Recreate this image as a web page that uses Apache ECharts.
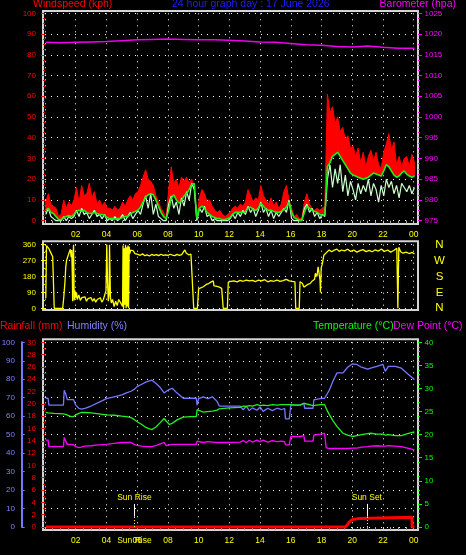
<!DOCTYPE html>
<html>
<head>
<meta charset="utf-8">
<script src="https://cdn.jsdelivr.net/npm/echarts@6/dist/echarts.min.js"></script>
<style>html,body{margin:0;padding:0;background:#000;}#c{width:466px;height:555px;}</style>
</head>
<body>
<div id="c"></div>
<script>
// ---------- DATA ----------
// wind samples every 10 minutes from 00:03
const windTimes = Array.from({length:145}, (_, i) => 0.05 + i / 6);
const windGust = [9,13,8,7,6,2,3,10,6,9, 7,10,16,9,17,12,13,18,11,14, 8,10,7,9,6,6,5,7,5,6,
  9,7,10,12,10,13,14,17,21,24.5, 20,19,17,12,9,6,4,1,15,26, 18,20,16,21,19,21,18,20,16,2,
  11,15,13,9,10,7,5,4,5,3, 2,3,4,6,7,6,8,7,9,15, 12,9,11,10,17,12,10,8,11,7,
  9,6,8,14,17,10,6,2,3,1, 1,9,13,8,6,5,6,5,6,7, 61,52,55,47,50,43,45,39,41,35,
  36,31,35,28,33,26,31,34,29,33, 27,25,33,37,42,34,38,27,31,26, 30,31,26,32,28];
const windAvg = [5,6,4,3.5,2,0.5,0.5,1.5,2,2.5, 2,3,4.5,5,4.5,5,4,3.5,3.5,4, 3.5,3,3,2.5,1.5,1,1,0.8,1,1,
  1.5,2,2,3,4,4.5,5,6.5,9,11.5, 12.5,13,12.5,10,7,4,2,1,5,11, 12.5,10,8.5,9.5,12,13,15,17.5,18,1,
  6,7,6,4,3,2,1.5,1,1,0.5, 0.5,1,1.5,3,4,4,4,4,4.5,6, 6.5,5.5,5,6,8.5,7,5.5,5,5,4.5,
  4,4,4.5,5.5,6.5,9,4,1.5,0.8,0.3, 0.2,4,7,6,5,4.5,4,3,2.5,3, 26,28,31,32,33,31,29,27,25,23,
  22,21.5,21,20.5,20,20.5,21,22,23,22.5, 22,21.5,24,27,26,24,22,21,21.5,23, 24,22.5,21.5,21,21.5];
const windSpeed = [3,6,2,1,0,0,0,2,0,2, 1,2,5,2,6,3,4,1,3,5, 2,3,1,3,0,1,0,2,0,1,
  3,0,2,4,1,3,5,3,8,12, 6,13,3,8,2,1,0,0,8,12, 6,9,3,11,7,14,10,18,15,0,
  6,4,7,2,3,0,1,0,0,0, 0,0,1,3,1,4,2,5,3,7, 4,6,2,5,9,4,6,2,5,1,
  4,2,4,6,4,10,1,0,0,0, 0,6,8,4,6,2,4,1,3,2, 20,27,16,25,18,27,14,22,12,19,
  15,10,18,13,17,14,20,12,18,15, 9,17,12,20,16,19,13,17,11,18, 16,14,17,13,16];

const baroTimes = [0.05,1,2,3,4,5,6,7,8,9,10,11,12,13,14,15,16,17,18,19,20,21,22,23,24.05];
const baroValues = [1018.0,1017.9,1018.0,1018.1,1018.2,1018.4,1018.6,1018.7,1018.8,1018.7,1018.6,1018.6,
  1018.5,1018.3,1018.1,1018.0,1017.7,1017.4,1017.3,1017.0,1016.9,1017.1,1016.8,1016.6,1016.6];

const dirTimes = [0.05,0.1,0.18,0.25,0.32,0.4,0.5,0.55,0.6,1.15,1.22,1.3,1.35,1.4,1.48,1.55,1.6,1.65,1.7,1.74,
  1.78,1.8,1.83,1.86,1.9,1.95,2.0,2.05,2.1,2.2,2.3,2.4,2.5,2.6,2.7,2.8,2.9,3.0,3.1,3.2,
  3.3,3.4,3.5,3.6,3.7,3.8,3.9,3.97,4.02,4.07,4.12,4.17,4.2,4.26,4.32,4.4,4.5,4.6,4.7,4.8,
  4.9,5.0,5.05,5.08,5.12,5.16,5.2,5.24,5.28,5.32,5.36,5.4,5.44,5.48,5.52,5.58,5.65,5.75,5.85,5.95,
  6.05,6.2,6.35,6.5,6.65,6.8,6.95,7.1,7.25,7.4,7.55,7.7,7.85,8.0,8.15,8.3,8.45,8.6,8.75,8.9,
  9.0,9.1,9.2,9.35,9.5,9.63,9.68,9.92,10.0,10.1,10.3,10.5,10.65,10.8,10.95,11.0,11.2,11.35,11.5,11.6,
  11.87,11.93,12.1,12.3,12.5,12.7,12.9,13.1,13.3,13.5,13.7,13.9,14.1,14.3,14.5,14.7,14.9,15.1,15.3,15.5,
  15.7,15.9,16.1,16.27,16.32,16.55,16.6,16.75,16.85,16.95,17.1,17.25,17.4,17.55,17.6,17.7,17.78,17.85,17.9,17.93,
  17.98,18.05,18.15,18.25,18.35,18.5,18.65,18.8,19.0,19.15,19.3,19.5,19.7,19.9,20.1,20.3,20.5,20.7,20.9,21.1,
  21.3,21.5,21.7,21.9,22.1,22.3,22.5,22.7,22.9,22.97,23.03,23.15,23.3,23.5,23.7,23.9,24.05];
const dirValues = [57,355,345,338,325,318,292,290,0,0,60,150,230,270,280,310,300,334,290,330,
  180,40,300,360,45,100,60,90,50,75,45,60,50,65,40,55,45,60,40,55,
  35,50,45,60,35,50,55,100,360,150,40,80,360,60,30,50,10,40,15,50,
  35,45,10,355,0,340,20,360,0,345,10,355,0,350,310,330,320,325,310,318,
  305,300,308,298,302,296,305,300,304,298,306,300,303,299,306,301,298,305,300,304,
  318,330,312,303,306,295,0,0,110,115,122,135,140,148,156,127,124,120,113,0,
  0,148,152,155,150,158,153,160,155,158,151,160,155,162,150,157,153,160,152,157,
  164,155,152,150,0,0,150,142,120,125,135,140,155,165,198,180,235,240,160,90,
  230,250,300,305,318,330,320,328,335,322,330,325,334,322,330,318,326,332,321,328,
  320,331,324,335,322,330,318,327,340,0,345,320,312,318,310,316,308];

const thTimes = [0.05,0.2,0.25,0.6,1.2,1.25,1.35,1.45,1.7,1.85,2.0,2.2,2.35,2.6,3.0,3.5,4.0,4.5,5.0,5.3,
  5.6,5.8,6.0,6.3,6.6,6.95,7.2,7.5,7.75,7.9,8.1,8.3,8.6,9.0,9.5,9.85,9.9,10.0,10.3,10.6,
  10.9,11.2,11.35,12.0,12.7,12.9,13.1,13.3,13.5,13.8,14.0,14.2,14.5,14.8,15.1,15.4,15.6,15.65,15.9,16.0,
  16.6,16.65,16.85,16.9,17.45,17.5,17.9,18.2,18.3,18.5,18.75,19.0,19.4,19.7,20.0,20.3,20.6,21.0,21.2,21.6,
  22.0,22.15,22.35,22.8,23.2,23.6,24.05];
const humidity = [69.7,69.7,66,66,66,74,72,69,69,69,66,64.3,63.8,64.2,65.5,67.5,69.5,70.5,71.5,72.6,
  73.5,74.5,76,77.3,78.6,79.5,78,75.5,72.6,73.5,74.5,75,72.5,69.7,69.7,69.7,66,69.5,70.5,69.5,
  70.5,68,65.4,65.4,65.4,63.5,65.4,63,64.5,63.2,65,62.6,64.3,63,64.3,63.5,64.3,58.5,58.5,66,
  66,67,67,64.3,64.3,68.8,69.5,69.7,69.7,74,79,83.4,83.4,86.5,88.3,88,86.5,85.5,86,87,
  88,84.3,87,87,86,83,79.8];
const temperature = [24.8,24.7,24.6,24.6,24.5,24.5,24.4,24.1,23.9,23.9,24.3,24.6,24.8,24.8,24.7,24.5,24.3,24.2,24.0,23.9,
  23.7,23.3,22.8,22.2,21.5,21.1,21.6,22.6,23.5,22.9,22.2,22.5,23.2,23.8,23.9,23.9,25.4,25.0,24.9,25.0,
  25.1,25.3,25.6,25.8,25.9,26.2,26.1,26.3,26.2,26.5,26.3,26.4,26.3,26.5,26.4,26.5,26.5,26.5,26.5,26.4,
  26.4,26.8,26.8,26.4,26.3,26.4,26.5,26.5,25.7,24.4,23.0,21.8,20.3,19.9,19.6,19.8,20.0,20.2,20.3,20.1,
  20.1,19.9,20.0,19.8,19.8,20.2,20.6];
const dewPoint = [18.8,18.8,17.4,17.4,17.4,19.4,18.6,17.9,17.9,17.8,17.4,17.2,17.3,17.5,17.6,17.8,17.9,18.1,18.3,18.3,
  18.3,17.9,17.7,17.5,17.4,17.4,17.6,18.0,18.3,17.6,17.8,17.9,17.9,17.9,17.9,17.9,18.6,18.5,18.3,18.5,
  18.4,18.3,18.3,18.3,18.4,18.7,18.3,18.8,18.4,18.8,18.5,18.8,18.4,18.7,18.5,18.6,18.5,17.8,17.8,19.6,
  19.6,19.8,19.8,18.6,18.6,19.9,20.1,20.3,17.2,17.0,17.0,17.0,17.0,17.0,17.1,17.1,17.3,17.4,17.5,17.6,
  17.5,17.5,17.6,17.5,17.4,17.1,16.7];

const rainTimes = [0.05,19.55,19.65,19.7,19.75,19.8,19.9,20.0,20.05,20.45,20.5,23.88,23.9,24.05];
const rainValues = [0,0,0.2,0.4,0.6,0.8,1.0,1.2,1.4,1.4,1.6,1.6,0,0];

const sunRise = 5.82, sunSet = 20.95;
const xTicks = {min:0, max:24, interval:2};

// ---------- CHART ----------
const FONT = '"Liberation Sans", Arial, sans-serif';
const pairs = (ts, vs) => ts.map((t, i) => [t, vs[i]]);
const hourLabel = v => { if (v === 0) return ''; const h = v % 24; return (h < 10 ? '0' : '') + h; };
const dotted = {show:true, lineStyle:{color:'#ffffff', width:1, type:[1,5]}};

function xAxis(gridIndex, labels, offset){
  return {type:'value', gridIndex, min:xTicks.min, max:xTicks.max, interval:xTicks.interval, offset,
    axisLine:{show:false},
    axisTick:{show:labels, length:4, lineStyle:{color:'#cccccc'}},
    minorTick:{show:labels, splitNumber:4, length:3, lineStyle:{color:'#aaaaaa'}},
    axisLabel:{show:labels, color:'#ffff00', fontSize:8.5, fontFamily:FONT, margin:6.5, formatter:hourLabel},
    splitLine:dotted};
}
function yAxis(o){
  return Object.assign({type:'value', axisLine:{show:false}, splitLine:{show:false}}, o);
}
const tickFont = {fontSize:8, fontFamily:FONT, formatter:v => String(v)};
const frame = (top, height) => ({left:43, right:48, top, height, show:true, borderColor:'#d4d4d4', borderWidth:2, backgroundColor:'transparent', outerBoundsMode:'none'});
const titleStyle = c => ({color:c, fontSize:10.5, fontWeight:'normal', fontFamily:FONT});

// red gust band: polygon between the gust line and the average line, placed through the axes
function gustBand(params, api){
  const top = windTimes.map((t, i) => api.coord([t, windGust[i]]));
  const bottom = windTimes.map((t, i) => api.coord([t, Math.min(windAvg[i], windGust[i])])).reverse();
  return {type:'polygon', shape:{points:top.concat(bottom)},
    style:{fill:'#ff0000', stroke:'#ff0000', lineWidth:1}};
}

const option = {
  backgroundColor:'#000000',
  animation:false,
  title:[
    {text:'Windspeed (kph)', left:33, top:-1, padding:0, textStyle:titleStyle('#ff0000')},
    {text:'24 hour graph day : 17 June 2026', left:172, top:-1, padding:0, textStyle:titleStyle('#1e1eff')},
    {text:'Barometer (hpa)', right:10, top:-1, padding:0, textStyle:titleStyle('#ff00ff')},
    {text:'Rainfall (mm)', left:0, top:321, padding:0, textStyle:titleStyle('#ff0000')},
    {text:'Humidity (%)', left:67, top:321, padding:0, textStyle:titleStyle('#8080ff')},
    {text:'Temperature (°C)', left:313, top:321, padding:0, textStyle:titleStyle('#00ff00')},
    {text:'Dew Point (°C)', left:393, top:321, padding:0, textStyle:titleStyle('#ff00ff')}
  ],
  grid:[
    {left:45, right:52.3, top:13.3, height:207.4, outerBoundsMode:'none'},
    {left:45, right:52.3, top:244.7, height:63.6, outerBoundsMode:'none'},
    {left:45, right:52.3, top:342.3, height:184.7, outerBoundsMode:'none'},
    frame(11, 213), frame(241.3, 68.7), frame(339.3, 190.7)
  ],
  xAxis:[ xAxis(0, true, 3.3), xAxis(1, false, 0), xAxis(2, true, 3) ],
  yAxis:[
    yAxis({gridIndex:0, position:'left', min:0, max:100, interval:10, offset:2,
      axisTick:{show:true, length:4, lineStyle:{color:'#ff0000'}},
      minorTick:{show:true, splitNumber:4, length:2, lineStyle:{color:'#ff0000'}},
      axisLabel:Object.assign({color:'#ff0000', margin:7}, tickFont), splitLine:dotted}),
    yAxis({gridIndex:0, position:'right', min:975, max:1025, interval:5, offset:4.3,
      axisTick:{show:true, length:4, lineStyle:{color:'#ff00ff'}},
      minorTick:{show:true, splitNumber:4, length:2, lineStyle:{color:'#ff00ff'}},
      axisLabel:Object.assign({color:'#ff00ff', margin:6.5}, tickFont)}),
    yAxis({gridIndex:1, position:'left', min:0, max:360, interval:90, offset:2,
      axisTick:{show:true, length:4, lineStyle:{color:'#ffff00'}},
      minorTick:{show:true, splitNumber:2, length:2, lineStyle:{color:'#ffff00'}},
      axisLabel:Object.assign({color:'#ffff00', margin:7}, tickFont), splitLine:dotted}),
    yAxis({gridIndex:1, position:'right', min:0, max:360, interval:90, offset:0,
      axisTick:{show:false},
      axisLabel:{color:'#ffff00', fontSize:11.5, fontFamily:FONT, margin:25.8, align:'center',
        formatter:v => ({0:'N',90:'E',180:'S',270:'W',360:'N'})[v] || ''}}),
    yAxis({gridIndex:2, position:'left', min:0, max:30, interval:2, offset:2,
      axisTick:{show:true, length:4, lineStyle:{color:'#ff0000'}},
      minorTick:{show:true, splitNumber:2, length:2, lineStyle:{color:'#ff0000'}},
      axisLabel:Object.assign({color:'#ff0000', margin:7}, tickFont)}),
    yAxis({gridIndex:2, position:'left', min:0, max:100, interval:10, offset:23.3,
      axisLine:{show:true, lineStyle:{color:'#7878ff', width:2}},
      axisTick:{show:true, inside:true, length:3, lineStyle:{color:'#7878ff'}},
      axisLabel:Object.assign({color:'#8080ff', margin:6.7}, tickFont), splitLine:dotted}),
    yAxis({gridIndex:2, position:'right', min:0, max:40, interval:5, offset:4.3,
      axisTick:{show:true, length:4, lineStyle:{color:'#00ff00'}},
      minorTick:{show:true, splitNumber:5, length:2, lineStyle:{color:'#00ff00'}},
      axisLabel:Object.assign({color:'#00ff00', margin:6.5}, tickFont)})
  ],
  series:[
    {name:'Gust', type:'custom', xAxisIndex:0, yAxisIndex:0, data:[[12, 10]], renderItem:gustBand, silent:true, clip:false},
    {name:'Wind speed', type:'line', xAxisIndex:0, yAxisIndex:0, data:pairs(windTimes, windSpeed),
      symbol:'none', lineStyle:{color:'#ccffcc', width:1.2}, clip:false},
    {name:'Average', type:'line', xAxisIndex:0, yAxisIndex:0, data:pairs(windTimes, windAvg),
      symbol:'none', lineStyle:{color:'#18f018', width:1.6}, clip:false},
    {name:'Barometer', type:'line', xAxisIndex:0, yAxisIndex:1, data:pairs(baroTimes, baroValues),
      symbol:'none', lineStyle:{color:'#ee00ee', width:1.5}, clip:false},
    {name:'Direction', type:'line', xAxisIndex:1, yAxisIndex:2, data:pairs(dirTimes, dirValues),
      symbol:'none', lineStyle:{color:'#ffff00', width:1.3}, clip:false},
    {name:'Humidity', type:'line', xAxisIndex:2, yAxisIndex:5, data:pairs(thTimes, humidity),
      symbol:'none', lineStyle:{color:'#7676ff', width:1.3}, clip:false},
    {name:'Temperature', type:'line', xAxisIndex:2, yAxisIndex:6, data:pairs(thTimes, temperature),
      symbol:'none', lineStyle:{color:'#22ee22', width:1.3}, clip:false},
    {name:'Dew Point', type:'line', xAxisIndex:2, yAxisIndex:6, data:pairs(thTimes, dewPoint),
      symbol:'none', lineStyle:{color:'#ff00ff', width:1.3}, clip:false},
    {name:'Rainfall', type:'line', xAxisIndex:2, yAxisIndex:4, data:pairs(rainTimes, rainValues),
      symbol:'none', lineStyle:{color:'#ff0000', width:3}, clip:false,
      markLine:{silent:true, symbol:['none','none'], animation:false, data:[
        [{coord:[sunRise,1.67], lineStyle:{color:'#ffffff', type:'solid', width:1},
          label:{show:true, position:'end', distance:2, formatter:'Sun Rise', color:'#ffff00', fontSize:8.5, fontFamily:FONT}},
         {coord:[sunRise,3.75]}],
        [{coord:[sunRise,0], lineStyle:{color:'#ffff00', type:[1,2], width:1}, label:{show:false}}, {coord:[sunRise,1.67]}],
        [{coord:[sunSet,1.67], lineStyle:{color:'#ffffff', type:'solid', width:1},
          label:{show:true, position:'end', distance:2, formatter:'Sun Set', color:'#ffff00', fontSize:8.5, fontFamily:FONT}},
         {coord:[sunSet,3.75]}],
        [{coord:[sunSet,0], lineStyle:{color:'#ffff00', type:[1,2], width:1}, label:{show:false}}, {coord:[sunSet,1.67]}]
      ]},
      markPoint:{silent:true, animation:false, data:[
        {coord:[sunRise,0], symbol:'circle', symbolSize:0,
          label:{show:true, formatter:'Sun Rise', offset:[0,14], color:'#ffff00', fontSize:8.5, fontFamily:FONT}}
      ]}
    }
  ]
};
const chart = echarts.init(document.getElementById('c'), null, {renderer:'canvas'});
chart.setOption(option);
</script>
</body>
</html>
